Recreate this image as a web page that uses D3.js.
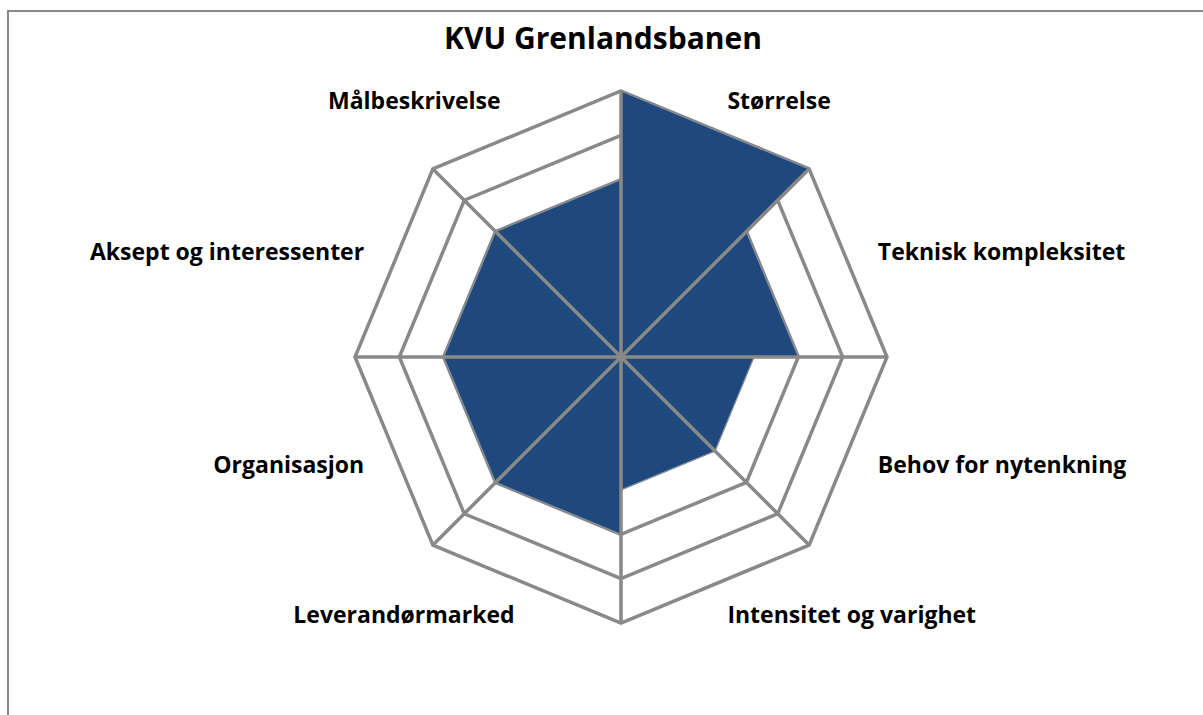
<!DOCTYPE html>
<html>
<head>
<meta charset="utf-8">
<script src="https://cdn.jsdelivr.net/npm/d3@7"></script>
<style>
  body { margin: 0; background: #fff; }
  text { font-family: "Open Sans", Lato, sans-serif; font-weight: bold; fill: #000; }
</style>
</head>
<body>
<script>
// categories go clockwise, each one fills the wedge from its spoke to the next
const categories = ["Størrelse", "Teknisk kompleksitet", "Behov for nytenkning",
    "Intensitet og varighet", "Leverandørmarked", "Organisasjon",
    "Aksept og interessenter", "Målbeskrivelse"];
const values = [6, 4, 3, 3, 4, 4, 4, 4];
const gridLevels = [4, 5, 6];
const title = "KVU Grenlandsbanen";

function drawChart() {
    const width = 1203;
    const height = 715;
    const cx = 621, cy = 357;
    const outer = 266;

    const svg = d3.select("body")
        .append("svg")
        .attr("width", width)
        .attr("height", height);

    // chart frame (only top and left edges are in view)
    svg.append("path")
        .attr("d", `M8,${height} L8,11 L${width},11`)
        .attr("fill", "none")
        .attr("stroke", "#888")
        .attr("stroke-width", 2);

    svg.append("text")
        .attr("x", 603)
        .attr("y", 41)
        .attr("text-anchor", "middle")
        .attr("dominant-baseline", "middle")
        .style("font-size", "30px")
        .text(title);

    const r = d3.scaleLinear().domain([0, 6]).range([0, outer]);
    const n = categories.length;
    const angle = i => i * 2 * Math.PI / n;
    const pt = (a, rad) => [cx + rad * Math.sin(a), cy - rad * Math.cos(a)];

    // gridline rings
    svg.append("g")
        .selectAll("polygon")
        .data(gridLevels)
        .enter().append("polygon")
        .attr("points", d => d3.range(n).map(i => pt(angle(i), r(d)).join(",")).join(" "))
        .attr("fill", "none")
        .attr("stroke", "#898989")
        .attr("stroke-width", 3.5)
        .attr("stroke-linejoin", "miter");

    // filled wedges
    svg.append("g")
        .selectAll("polygon")
        .data(values)
        .enter().append("polygon")
        .attr("points", (d, i) => [[cx, cy], pt(angle(i), r(d)), pt(angle(i + 1), r(d))]
            .map(p => p.join(",")).join(" "))
        .attr("fill", "#1F497D")
        .attr("stroke", "#1F497D")
        .attr("stroke-width", 0.5);

    // outline of the filled shape
    const outline = [];
    values.forEach((d, i) => {
        outline.push(pt(angle(i), r(d)), pt(angle(i + 1), r(d)));
    });
    svg.append("polygon")
        .attr("points", outline.map(p => p.join(",")).join(" "))
        .attr("fill", "none")
        .attr("stroke", "#8a8f99")
        .attr("stroke-width", 1.2);

    // spokes on top
    svg.append("g")
        .selectAll("line")
        .data(d3.range(n))
        .enter().append("line")
        .attr("x1", cx).attr("y1", cy)
        .attr("x2", i => pt(angle(i), outer)[0])
        .attr("y2", i => pt(angle(i), outer)[1])
        .attr("stroke", "#898989")
        .attr("stroke-width", 3.5);

    // labels at middle of each wedge
    svg.append("g")
        .selectAll("text")
        .data(categories)
        .enter().append("text")
        .attr("x", (d, i) => pt(angle(i + 0.5), 278)[0] + (i === 7 ? -14 : 0))
        .attr("y", (d, i) => pt(angle(i + 0.5), 278)[1] + 3)
        .attr("text-anchor", (d, i) => i < n / 2 ? "start" : "end")
        .attr("dominant-baseline", "middle")
        .style("font-size", "23px")
        .text(d => d);
}

drawChart();
</script>
</body>
</html>
